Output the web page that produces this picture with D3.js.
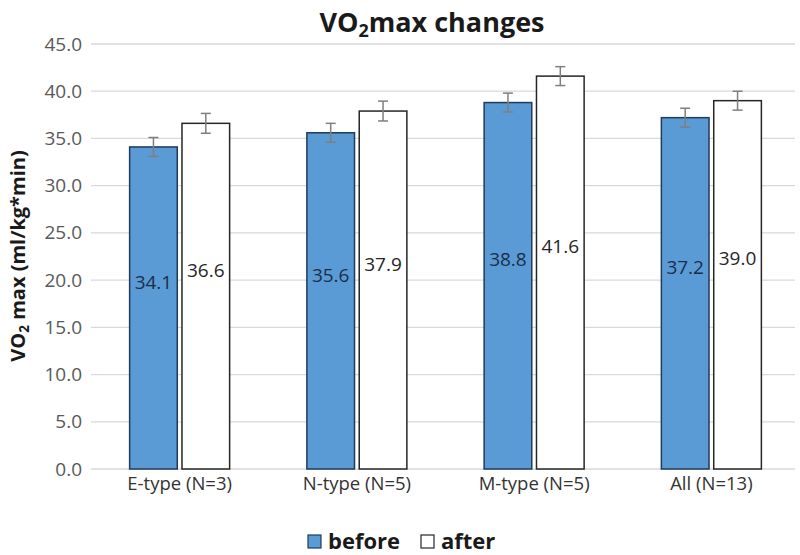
<!DOCTYPE html>
<html><head><meta charset="utf-8">
<script src="https://cdn.jsdelivr.net/npm/d3@7"></script>
<style>body{margin:0;background:#fff}svg{display:block}text{font-family:"Open Sans",sans-serif}</style>
</head><body><svg id="c" width="800" height="555"></svg>
<script>
const categories = ["E-type (N=3)", "N-type (N=5)", "M-type (N=5)", "All (N=13)"];
const seriesNames = ["before", "after"];
const beforeValues = [34.1, 35.6, 38.8, 37.2];
const afterValues = [36.6, 37.9, 41.6, 39.0];
const beforeErrors = [1.0, 1.0, 1.0, 1.0];
const afterErrors = [1.05, 1.05, 1.0, 1.0];
const yTicks = [0, 5, 10, 15, 20, 25, 30, 35, 40, 45];

const svg = d3.select("#c");
const y = d3.scaleLinear().domain([0, 45]).range([469, 44]);
const x0 = d3.scaleBand().domain(categories).range([91, 800]);
const x1 = d3.scaleBand().domain(seriesNames).range([0, 100]).paddingInner(0.09);
const groupOffset = (x0.bandwidth() - 100) / 2;

// gridlines
svg.append("g").selectAll("line").data(yTicks).join("line")
  .attr("x1", 91).attr("x2", 795).attr("y1", d => y(d)).attr("y2", d => y(d))
  .attr("stroke", "#d9d9d9").attr("stroke-width", 1.3);

// y axis labels
const yAxis = d3.axisLeft(y).tickValues(yTicks).tickFormat(d3.format(".1f")).tickSize(0).tickPadding(9);
const ga = svg.append("g").attr("transform", "translate(91,0)").call(yAxis)
  .attr("font-size", 19).attr("font-family", "Open Sans");
ga.select(".domain").remove();
ga.selectAll("text").attr("fill", "#595959");

// x axis labels
const xAxis = d3.axisBottom(x0).tickSize(0).tickPadding(8);
const gx = svg.append("g").attr("transform", "translate(0,469)").call(xAxis)
  .attr("font-size", 18.5).attr("font-family", "Open Sans");
gx.select(".domain").remove();
gx.selectAll("text").attr("fill", "#333");

const rows = categories.map((c, i) => [
  {cat: c, s: "before", v: beforeValues[i], e: beforeErrors[i]},
  {cat: c, s: "after", v: afterValues[i], e: afterErrors[i]}
]).flat();

const bx = d => x0(d.cat) + groupOffset + x1(d.s);

svg.append("g").selectAll("rect").data(rows).join("rect")
  .attr("x", bx).attr("width", x1.bandwidth())
  .attr("y", d => y(d.v)).attr("height", d => y(0) - y(d.v))
  .attr("fill", d => d.s === "before" ? "#5b9bd5" : "#ffffff")
  .attr("stroke", d => d.s === "before" ? "#203a5a" : "#262626")
  .attr("stroke-width", 1.5);

// error bars
const eb = svg.append("g").attr("stroke", "#7f7f7f").attr("stroke-width", 1.5);
rows.forEach(d => {
  const cx = bx(d) + x1.bandwidth() / 2;
  eb.append("line").attr("x1", cx).attr("x2", cx).attr("y1", y(d.v + d.e)).attr("y2", y(d.v - d.e));
  eb.append("line").attr("x1", cx - 5).attr("x2", cx + 5).attr("y1", y(d.v + d.e)).attr("y2", y(d.v + d.e));
  eb.append("line").attr("x1", cx - 5).attr("x2", cx + 5).attr("y1", y(d.v - d.e)).attr("y2", y(d.v - d.e));
});

// value labels
svg.append("g").selectAll("text").data(rows).join("text")
  .attr("x", d => bx(d) + x1.bandwidth() / 2)
  .attr("y", d => (y(d.v) + y(0)) / 2 - 26)
  .attr("dy", "0.35em").attr("text-anchor", "middle")
  .attr("font-size", 19)
  .attr("fill", d => d.s === "before" ? "#1a2e4a" : "#262626")
  .text(d => d3.format(".1f")(d.v));

// title
const t = svg.append("text").attr("x", 432).attr("y", 32).attr("text-anchor", "middle")
  .attr("font-size", 27).attr("font-weight", "bold").attr("fill", "#1a1a1a");
t.append("tspan").text("VO");
t.append("tspan").attr("font-size", 18).attr("dy", 5).text("2");
t.append("tspan").attr("dy", -5).text("max changes");

// y axis title
const yt = svg.append("text").attr("transform", "translate(25,256) rotate(-90)")
  .attr("text-anchor", "middle").attr("font-size", 20).attr("font-weight", "bold").attr("fill", "#1a1a1a");
yt.append("tspan").text("VO");
yt.append("tspan").attr("font-size", 13.5).attr("dy", 4).text("2");
yt.append("tspan").attr("dy", -4).text(" max (ml/kg*min)");

// legend
const legendX = [308, 421];
const lg = svg.append("g");
seriesNames.forEach((s, i) => {
  lg.append("rect").attr("x", legendX[i]).attr("y", 535).attr("width", 13).attr("height", 13)
    .attr("fill", s === "before" ? "#5b9bd5" : "#fff")
    .attr("stroke", s === "before" ? "#203a5a" : "#262626").attr("stroke-width", 1.2);
  lg.append("text").attr("x", legendX[i] + 20).attr("y", 549)
    .attr("font-size", 22).attr("font-weight", "bold").attr("fill", "#1a1a1a").text(s);
});
</script></body></html>
